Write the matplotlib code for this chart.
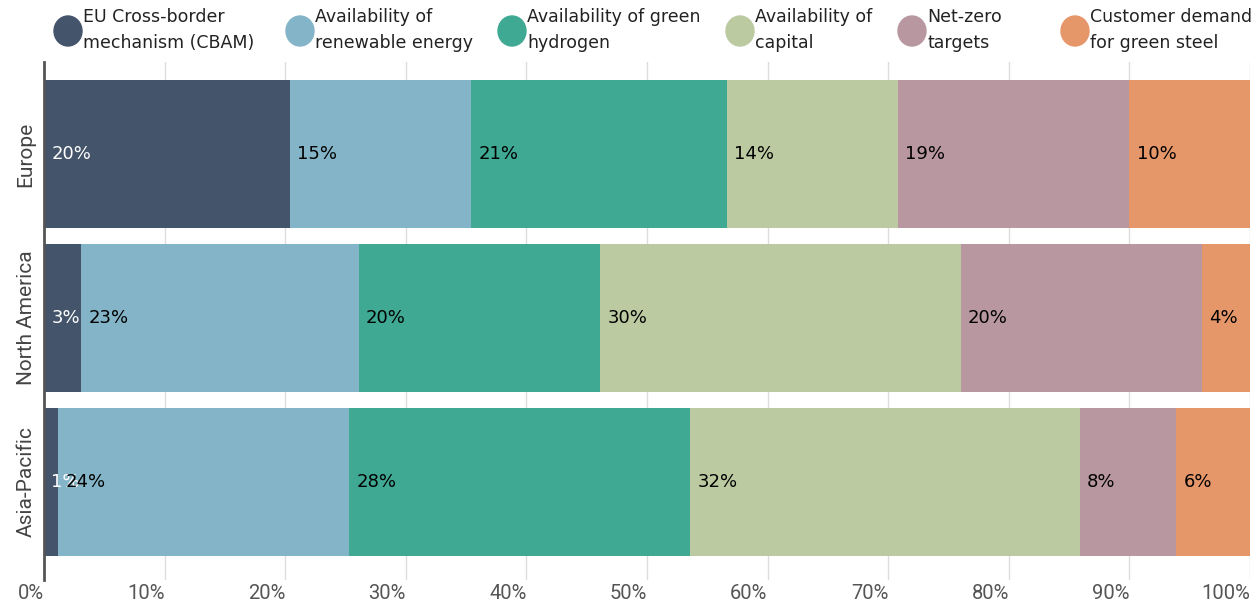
import matplotlib.pyplot as plt
import matplotlib.transforms as mtransforms
from matplotlib.patches import Ellipse

# 各地区对绿色钢铁转型驱动因素的占比（%）
regions = ['Europe', 'North America', 'Asia-Pacific']
factors = ['EU Cross-border\nmechanism (CBAM)', 'Availability of\nrenewable energy',
           'Availability of green\nhydrogen', 'Availability of\ncapital',
           'Net-zero\ntargets', 'Customer demand\nfor green steel']
cbam = [20.4, 3.1, 1.2]
renewable = [15.0, 23.0, 24.1]
hydrogen = [21.2, 20.0, 28.3]
capital = [14.2, 29.9, 32.3]
net_zero = [19.2, 20.0, 8.0]
demand = [10.0, 4.0, 6.1]
xticks = [0, 10, 20, 30, 40, 50, 60, 70, 80, 90, 100]

series = [cbam, renewable, hydrogen, capital, net_zero, demand]
colors = ['#44546a', '#84b4c8', '#3fa994', '#bccaa2', '#b897a1', '#e6976a']
label_colors = ['white', 'black', 'black', 'black', 'black', 'black']

plt.rcParams['font.family'] = ['DejaVu Sans']

fig = plt.figure(figsize=(12.54, 6.02), dpi=100)
ax = fig.add_axes([44 / 1254, 1 - 580 / 602, 1206 / 1254, (580 - 62) / 602])

y = list(range(len(regions)))
left = [0.0] * len(regions)
for vals, c, tc in zip(series, colors, label_colors):
    ax.barh(y, vals, left=left, height=0.9, color=c, zorder=2)
    for i, v in enumerate(vals):
        ax.text(left[i] + 0.6, y[i], f'{v:.0f}%', ha='left', va='center',
                fontsize=13, color=tc, zorder=3)
    left = [l + v for l, v in zip(left, vals)]

ax.set_xlim(0, 100)
ax.set_ylim(2.598, -0.561)
ax.set_xticks(xticks)
ax.set_xticklabels([f'{t}%' for t in xticks], fontsize=14.5, color='#555555',
                   family=['Roboto'])
offset = mtransforms.ScaledTranslation(-6 / 72, 0, fig.dpi_scale_trans)
for lab in ax.get_xticklabels():
    lab.set_ha('right')
    lab.set_transform(lab.get_transform() + offset)
ax.set_yticks(y)
ax.set_yticklabels(regions, rotation=90, va='center', fontsize=15, color='#444444',
                   family=['Roboto'])
ax.tick_params(length=0, axis='x', pad=3)
ax.tick_params(length=0, axis='y', pad=6)
ax.grid(axis='x', color='#dddddd', linewidth=1, zorder=0)
for s in ['top', 'right', 'bottom']:
    ax.spines[s].set_visible(False)
ax.spines['left'].set_color('#555555')
ax.spines['left'].set_linewidth(2)
ax.spines['left'].set_zorder(4)

# 图例：圆点 + 两行文字
legend_x = [68, 300, 512, 740, 912, 1075]
for lx, c, name in zip(legend_x, colors, factors):
    fig.patches.append(Ellipse((lx / 1254, 1 - 31 / 602), 28 / 1254, 30 / 602,
                               transform=fig.transFigure, color=c))
    fig.text((lx + 15) / 1254, 1 - 30 / 602, name, ha='left', va='center',
             fontsize=12.5, color='#222222', linespacing=1.55)

fig.savefig('out.png', dpi=100)
